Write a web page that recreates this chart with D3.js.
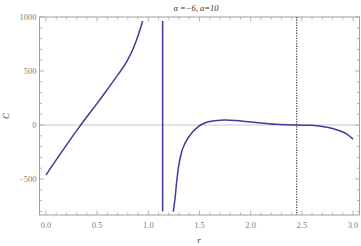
<!DOCTYPE html>
<html>
<head>
<meta charset="utf-8">
<script src="https://cdn.jsdelivr.net/npm/d3@7"></script>
<style>
  body { margin: 0; background: #fff; }
  svg text { font-family: "Liberation Serif", "DejaVu Serif", serif; }
</style>
</head>
<body>
<div id="chart"></div>
<script>
// curve pieces (r, C)
const leftR  = [0, 0.1, 0.2, 0.3, 0.4, 0.5, 0.6, 0.7, 0.789, 0.854, 0.902, 0.945];
const leftC  = [-463, -323, -186, -52, 76, 200, 330, 462, 586, 710, 833, 963];
const poleR  = [1.14, 1.14];
const poleC  = [963, -800];
const rightR = [1.244, 1.261, 1.277, 1.293, 1.326, 1.358, 1.407, 1.488, 1.57, 1.65, 1.75, 1.85, 2.0, 2.25, 2.45, 2.6, 2.7, 2.8, 2.87, 2.94, 3.0];
const rightC = [-803, -679, -525, -401, -247, -170, -93, -15, 25, 40, 46, 42, 28, 6, 0, -3, -14, -32, -53, -85, -130];
const markerR = 2.449;
const xTicks = [0, 0.5, 1.0, 1.5, 2.0, 2.5, 3.0];
const yTicks = [-500, 0, 500, 1000];

const W = 361, H = 246;
const fL = 39.5, fR = 359.5, fT = 17, fB = 215;

const svg = d3.select("#chart").append("svg")
    .attr("width", W).attr("height", H);

const x = d3.scaleLinear().domain([-0.063, 3.063]).range([fL, fR]);
const y = d3.scaleLinear().domain([-833, 1000]).range([fB, fT]);

// zero line
svg.append("line")
    .attr("x1", fL).attr("x2", fR)
    .attr("y1", y(0)).attr("y2", y(0))
    .attr("stroke", "#c8c8c8").attr("stroke-width", 1);

// minor ticks every 0.1 / 100
const xMinor = d3.range(0, 31).map(d => d / 10).filter(d => !xTicks.some(t => Math.abs(t - d) < 1e-9));
const yMinor = d3.range(-8, 11).map(d => d * 100).filter(d => !yTicks.includes(d));

const frameColor = "#a0a0a0";
const tickCol = "#a0a0a0";

function ticksH(vals, yy, dir, len) {
    svg.append("g").selectAll("line").data(vals).enter().append("line")
        .attr("x1", d => x(d)).attr("x2", d => x(d))
        .attr("y1", yy).attr("y2", yy + dir * len)
        .attr("stroke", tickCol).attr("stroke-width", 0.8);
}
function ticksV(vals, xx, dir, len) {
    svg.append("g").selectAll("line").data(vals).enter().append("line")
        .attr("y1", d => y(d)).attr("y2", d => y(d))
        .attr("x1", xx).attr("x2", xx + dir * len)
        .attr("stroke", tickCol).attr("stroke-width", 0.8);
}
ticksH(xTicks, fB, -1, 4.5); ticksH(xMinor, fB, -1, 2.5);
ticksH(xTicks, fT, 1, 4.5);  ticksH(xMinor, fT, 1, 2.5);
ticksV(yTicks, fL, 1, 4.5);  ticksV(yMinor, fL, 1, 2.5);
ticksV(yTicks, fR, -1, 4.5); ticksV(yMinor, fR, -1, 2.5);

// frame
svg.append("rect")
    .attr("x", fL).attr("y", fT)
    .attr("width", fR - fL).attr("height", fB - fT)
    .attr("fill", "none").attr("stroke", frameColor).attr("stroke-width", 1);

// tick labels
svg.append("g").selectAll("text").data(xTicks).enter().append("text")
    .attr("x", d => x(d)).attr("y", fB + 13)
    .attr("text-anchor", "middle")
    .attr("font-size", 8.5).attr("fill", "#808080")
    .text(d => d3.format(".1f")(d));

svg.append("g").selectAll("text").data(yTicks).enter().append("text")
    .attr("x", fL - 3).attr("y", d => y(d) + 3)
    .attr("text-anchor", "end")
    .attr("font-size", 8.5).attr("fill", "#808080")
    .text(d => d < 0 ? "\u2212" + Math.abs(d) : d);

// axis labels and title
svg.append("text")
    .attr("x", 199).attr("y", 243)
    .attr("text-anchor", "middle").attr("font-style", "italic")
    .attr("font-size", 9).attr("fill", "#333")
    .text("r");

svg.append("text")
    .attr("transform", "translate(9,116) rotate(-90)")
    .attr("text-anchor", "middle").attr("font-style", "italic")
    .attr("font-size", 9).attr("fill", "#333")
    .text("C");

svg.append("text")
    .attr("x", 196).attr("y", 11)
    .attr("text-anchor", "middle").attr("font-style", "italic")
    .attr("font-size", 8.5).attr("fill", "#333")
    .text("\u03b1 =\u22126, a=10");

// dotted marker
svg.append("line")
    .attr("x1", x(markerR)).attr("x2", x(markerR))
    .attr("y1", fT).attr("y2", fB)
    .attr("stroke", "#555").attr("stroke-width", 1.3)
    .attr("stroke-dasharray", "1.3,1.3");

// curve
const line = d3.line()
    .x(d => x(d[0])).y(d => y(d[1]))
    .curve(d3.curveMonotoneX);

const pieces = [
    d3.zip(leftR, leftC),
    d3.zip(poleR, poleC),
    d3.zip(rightR, rightC)
];

svg.append("g").selectAll("path").data(pieces).enter().append("path")
    .attr("d", line)
    .attr("fill", "none")
    .attr("stroke", "#3d3d9c")
    .attr("stroke-width", 1.5);
</script>
</body>
</html>
